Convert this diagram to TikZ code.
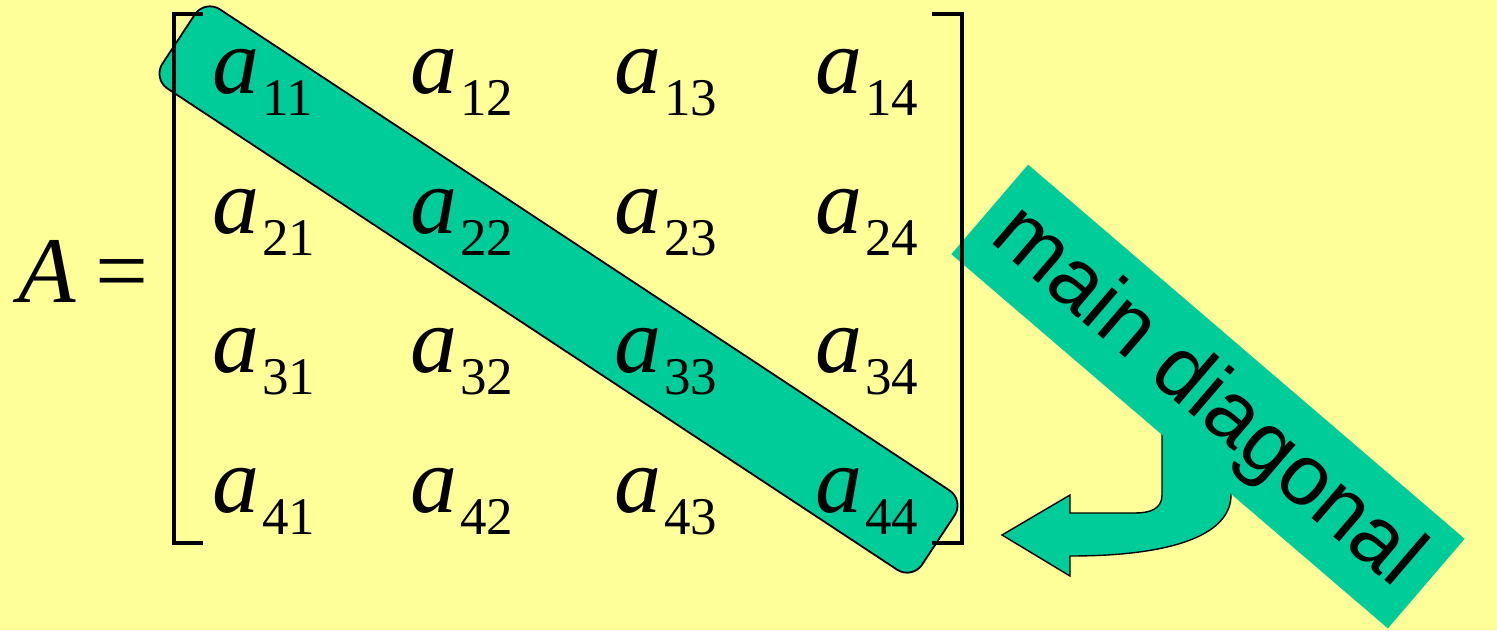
\documentclass[tikz,border=0pt]{standalone}
\usepackage{fontspec}
\setmainfont{Liberation Serif}
\newfontfamily\labelfont{Liberation Sans}
\definecolor{bgyellow}{HTML}{FFFF99}
\definecolor{bandgreen}{HTML}{00CC99}
\newcommand\mentry[1]{\textit{a}\kern3pt\raisebox{-22pt}{\fontsize{53}{53}\selectfont #1}}
\begin{document}
\begin{tikzpicture}[x=1pt,y=-1pt,
  ent/.style={anchor=base west,inner sep=0pt,font=\fontsize{94}{94}\selectfont},
  bandbox/.style={draw=black,line width=1.8pt,fill=bandgreen,rounded corners=18pt,
    minimum width=910pt,minimum height=95pt,inner sep=0pt},
  labelbox/.style={fill=bandgreen,minimum width=575pt,minimum height=118pt,inner sep=0pt},
  bracketline/.style={line width=3.6pt,line cap=butt,line join=miter},
  bentarrow/.style={draw=black,line width=1.4pt,fill=bandgreen}]
\fill[bgyellow] (0,0) rectangle (1497,630);
\useasboundingbox (0,0) rectangle (1497,630);
% diagonal band
\node[bandbox,rotate=-33.4] (band) at (558.5,289.5) {};
% bent block arrow
\draw[bentarrow] (1162,420) -- (1162,495)
  .. controls (1162,509) and (1150,513) .. (1135,513)
  -- (1070,513) -- (1070,495) -- (1002,535) -- (1070,576) -- (1070,556)
  .. controls (1180,556) and (1231,532) .. (1231,495) -- (1231,420) -- cycle;
% label box
\node[labelbox,rotate=-40.6] (lab) at (1208,396.5) {};
\node[rotate=-40.6,inner sep=0pt,font=\labelfont\fontsize{86}{86}\selectfont] (labtext) at (1206,398) {main diagonal};
% brackets
\coordinate (lt) at (203,14); \coordinate (lb) at (203,543);
\coordinate (rt) at (932,14); \coordinate (rb) at (932,543);
\draw[bracketline] (lt) -- (174,14) -- (174,543) -- (lb);
\draw[bracketline] (rt) -- (962,14) -- (962,543) -- (rb);
% A =
\node[ent] (A) at (18,302) {\textit{A}};
\node[ent] (eq) at (95,302) {=};
% entries
\node[ent] (m11) at (212,93) {\mentry{11}};
\node[ent] (m12) at (410,93) {\mentry{12}};
\node[ent] (m13) at (614,93) {\mentry{13}};
\node[ent] (m14) at (815,93) {\mentry{14}};
\node[ent] (m21) at (212,233) {\mentry{21}};
\node[ent] (m22) at (410,233) {\mentry{22}};
\node[ent] (m23) at (614,233) {\mentry{23}};
\node[ent] (m24) at (815,233) {\mentry{24}};
\node[ent] (m31) at (212,372) {\mentry{31}};
\node[ent] (m32) at (410,372) {\mentry{32}};
\node[ent] (m33) at (614,372) {\mentry{33}};
\node[ent] (m34) at (815,372) {\mentry{34}};
\node[ent] (m41) at (212,512) {\mentry{41}};
\node[ent] (m42) at (410,512) {\mentry{42}};
\node[ent] (m43) at (614,512) {\mentry{43}};
\node[ent] (m44) at (815,512) {\mentry{44}};
\end{tikzpicture}
\end{document}
